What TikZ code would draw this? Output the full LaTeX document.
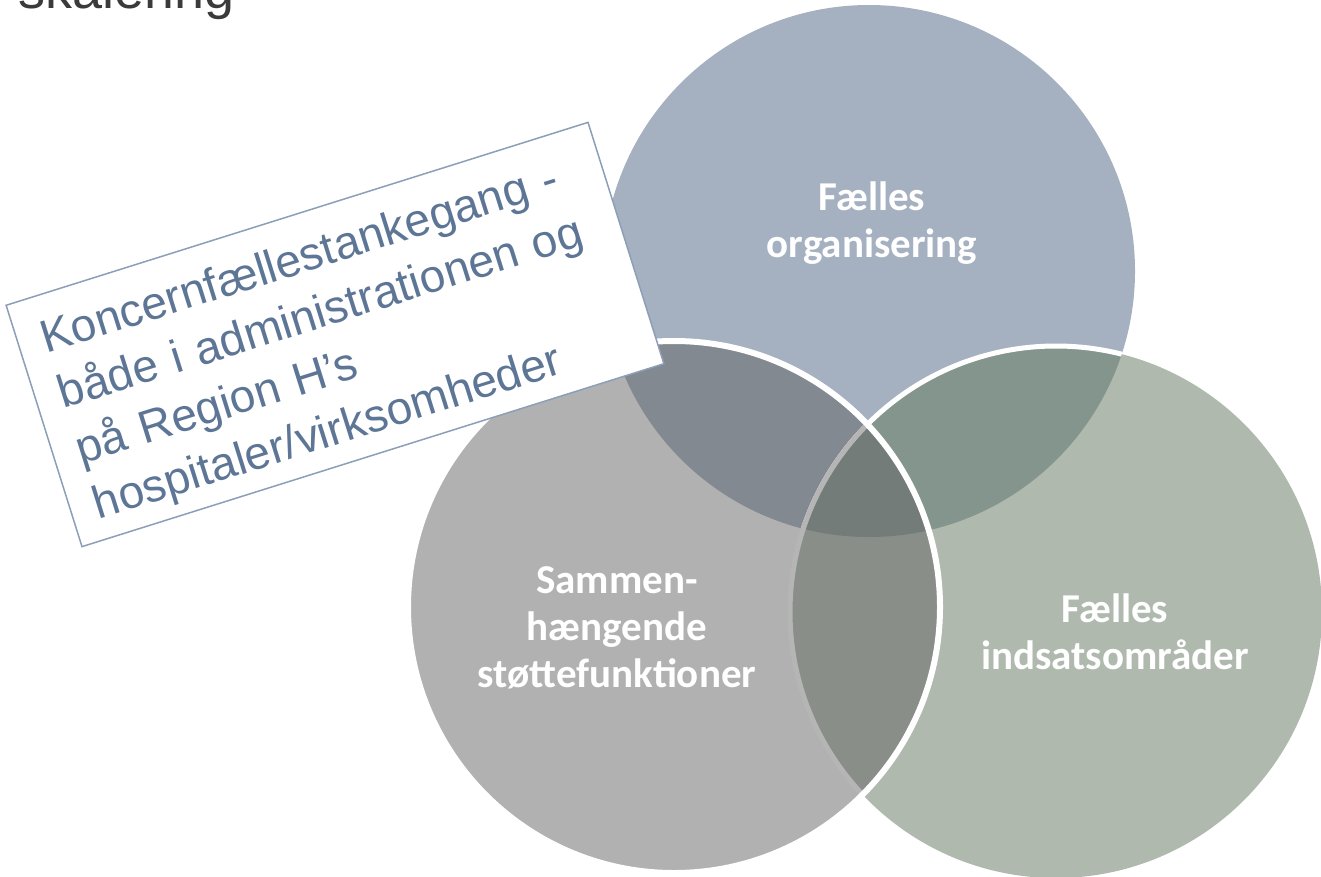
\documentclass[tikz,border=0pt]{standalone}
\usepackage{fontspec}
\setmainfont{Liberation Sans}
\newfontfamily\lblfont{Carlito}

\definecolor{cOrg}{HTML}{A5B1C1}
\definecolor{cStoette}{HTML}{B1B1B1}
\definecolor{cIndsats}{HTML}{AFB9AE}
\definecolor{cOrgStoette}{HTML}{838991}
\definecolor{cOrgIndsats}{HTML}{84958D}
\definecolor{cStoetteIndsats}{HTML}{8A8E88}
\definecolor{cAlle}{HTML}{737C78}
\definecolor{tekstblaa}{HTML}{5E7696}
\definecolor{rammeblaa}{HTML}{8C9FB7}
\definecolor{titelgraa}{HTML}{3A3A3A}

\tikzset{
  cirkeltekst/.style={text=white, align=center, inner sep=0pt,
    font=\lblfont\bfseries\fontsize{41}{47}\selectfont},
  ramme/.style={draw=rammeblaa, line width=1.5pt, fill=white,
    minimum width=610pt, minimum height=253pt, inner sep=0pt},
  notat/.style={text=tekstblaa, font=\fontsize{46}{58}\selectfont,
    align=left, text width=562pt, inner sep=0pt}
}

\begin{document}
\begin{tikzpicture}[x=1pt,y=-1pt]
            \useasboundingbox (0,0) rectangle (1321,876);
            \clip (0,0) rectangle (1321,876);

            % Titel
            \node[anchor=base west, inner sep=0pt, text=titelgraa,
                  font=\fontsize{54}{60}\selectfont] (titel) at (18,8) {skalering};

            % Cirkler
            \coordinate (org) at (869,271);
            \coordinate (stoette) at (674,607);
            \coordinate (indsats) at (1056,612);
            \fill[cOrg] (org) circle (266pt);
            \fill[cIndsats] (indsats) circle (266pt);
            \fill[cStoette] (stoette) circle (266pt);

            % Overlap
            \begin{scope}
                \clip (org) circle (266pt);
                \fill[cOrgIndsats] (indsats) circle (266pt);
                \fill[cOrgStoette] (stoette) circle (266pt);
                \draw[white, line width=5pt] (indsats) circle (266pt);
            \end{scope}
            \begin{scope}
                \clip (stoette) circle (266pt);
                \fill[cStoetteIndsats] (indsats) circle (266pt);
                \clip (org) circle (266pt);
                \fill[cAlle] (indsats) circle (266pt);
            \end{scope}
            \begin{scope}
                \clip (stoette) circle (266pt);
                \draw[cStoette!95!white, line width=5pt] (indsats) circle (266pt);
            \end{scope}
            \draw[white, line width=6pt] (stoette) circle (266pt);

            % Tekst
            \node[cirkeltekst] (orgtekst) at (872,223) {Fælles\\organisering};
            \node[cirkeltekst] (stoettetekst) at (617,628) {Sammen-\\hængende\\støttefunktioner};
            \node[cirkeltekst] (indsatstekst) at (1115,632) {Fælles\\indsatsområder};

            % Notat
            \node[ramme, rotate=17.45] (tanke) at (335,334.5) {};
            \node[notat, rotate=17.45] (tanketekst) at (337,341)
                {Koncernfællestankegang -\\både i administrationen og\\på Region H’s\\hospitaler/virksomheder};
\end{tikzpicture}
\end{document}
